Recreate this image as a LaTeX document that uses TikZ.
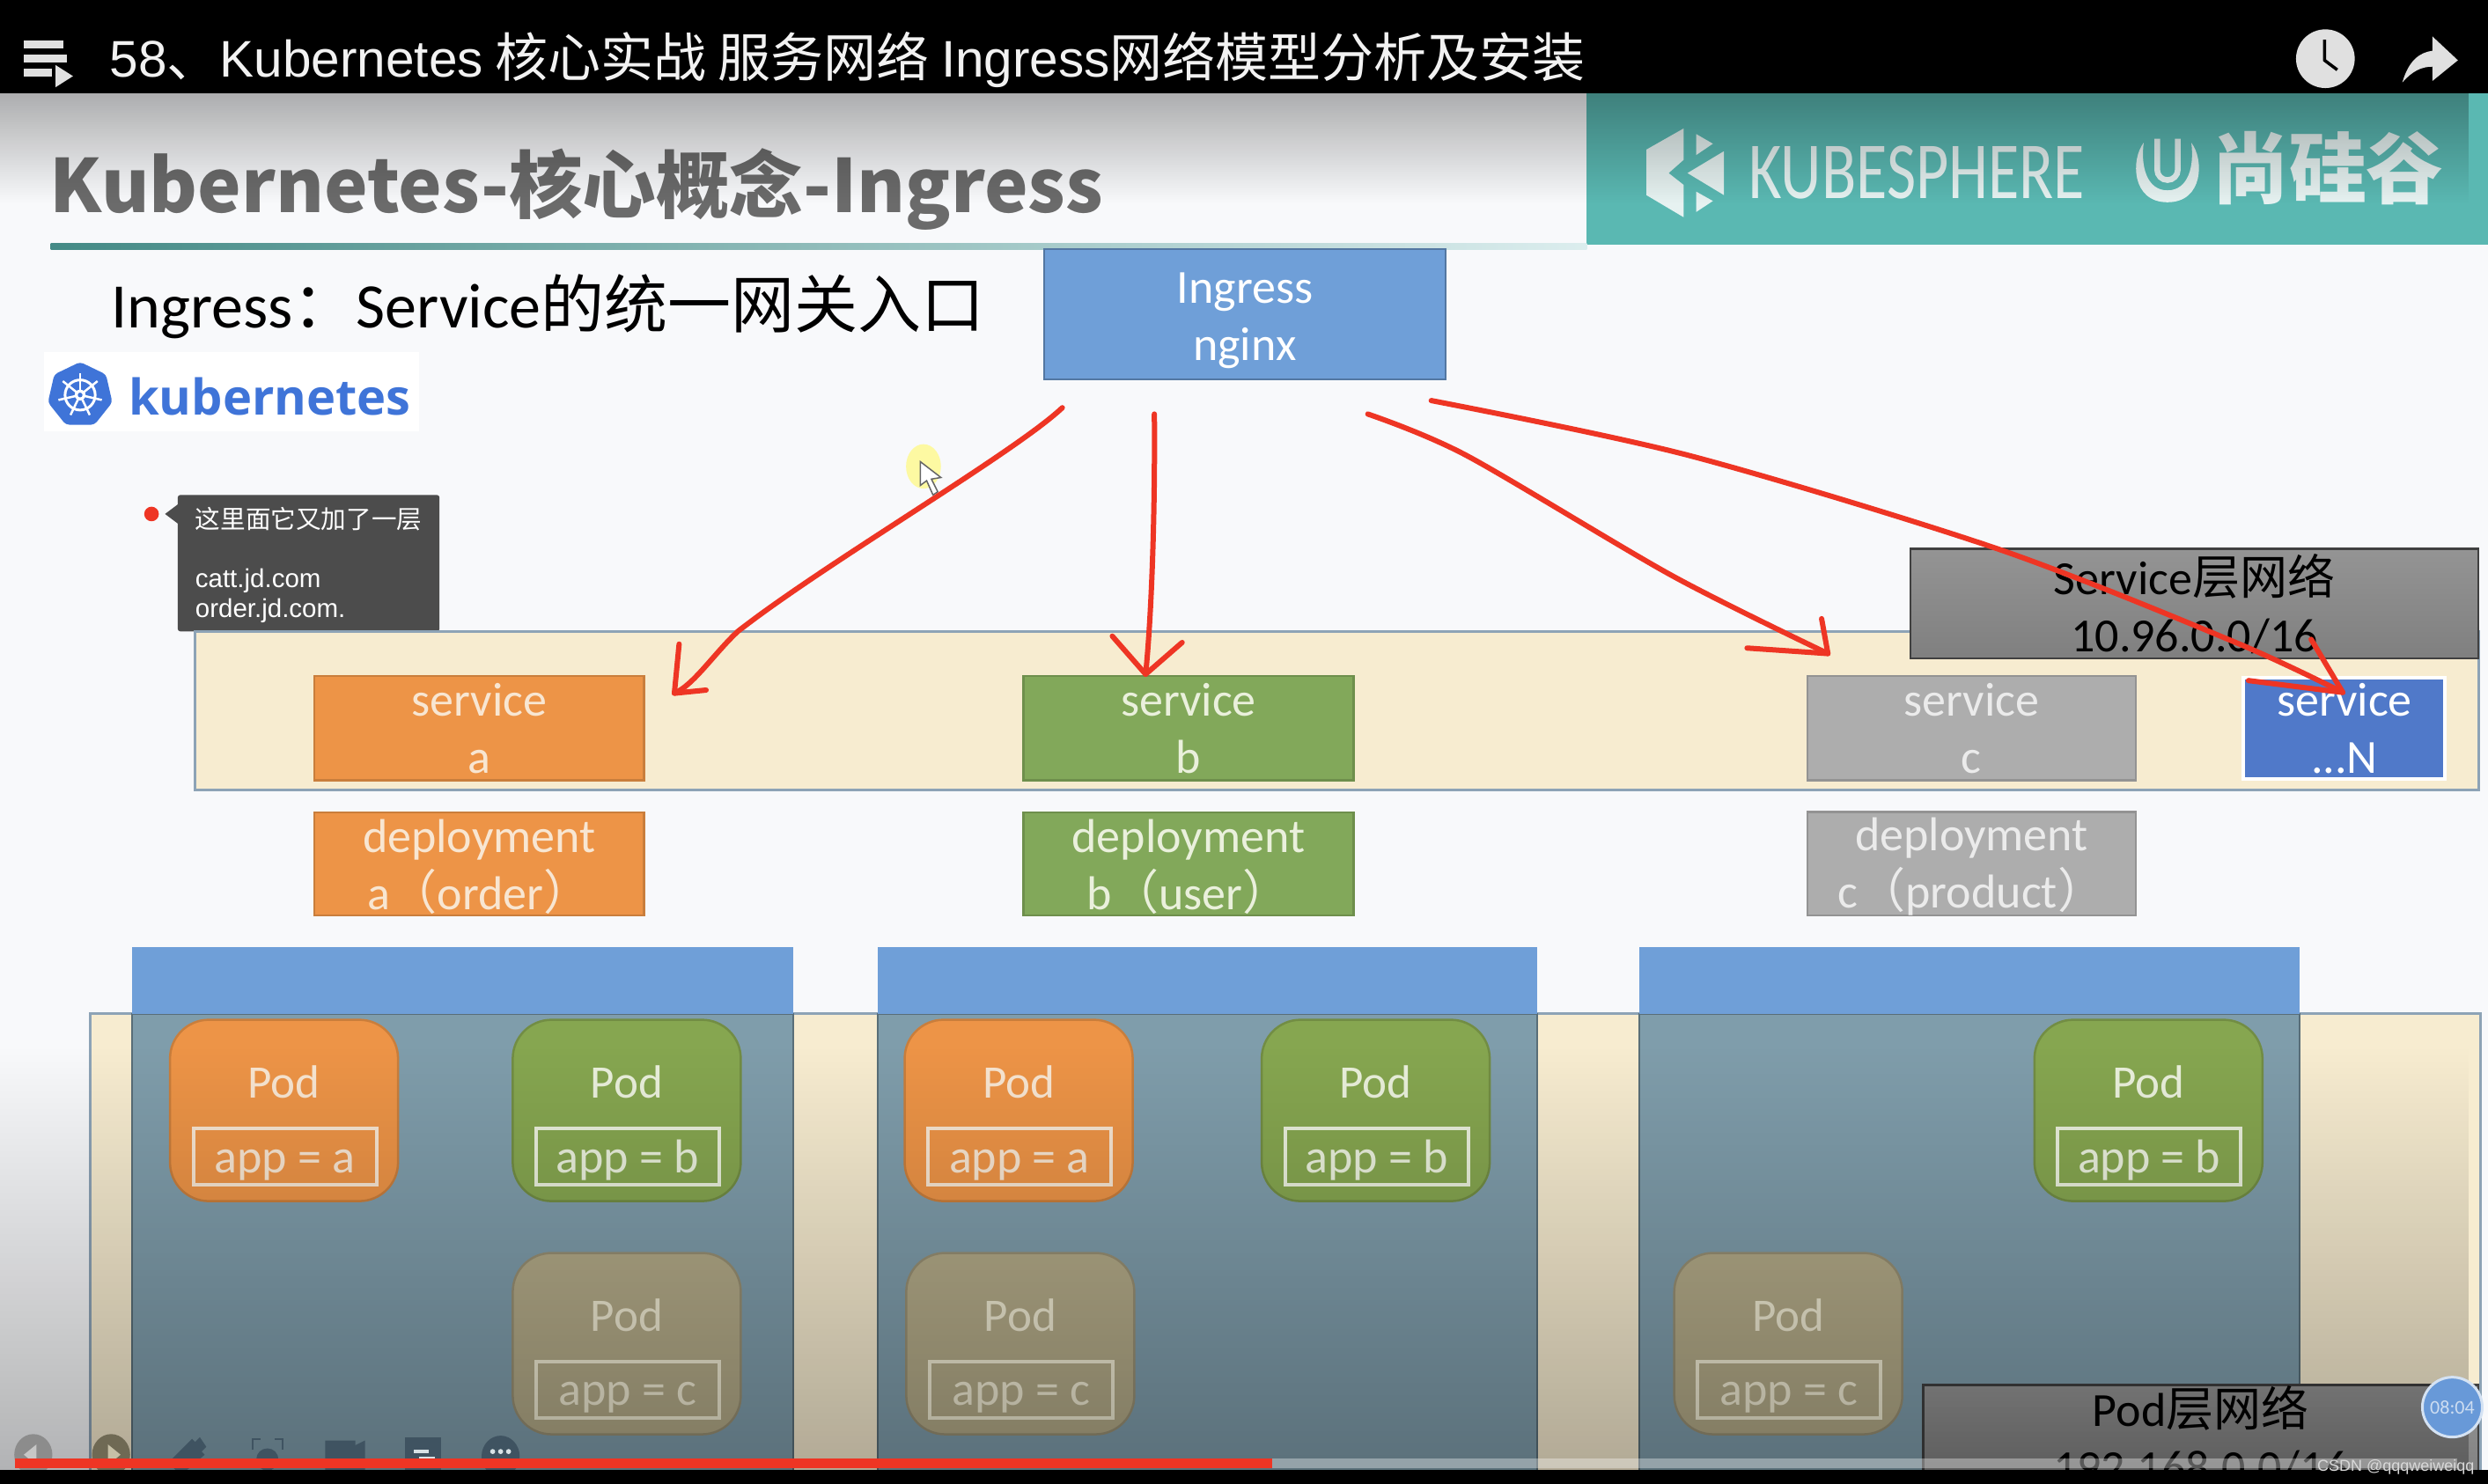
\documentclass[tikz,border=0pt]{standalone}
\usepackage{fontspec}
\usepackage{graphicx}
\usetikzlibrary{fadings,shapes.geometric,calc}
\setmainfont{Carlito}
\newfontfamily\cjk{Noto Sans CJK SC}
\newfontfamily\lib{Liberation Sans}
\newfontfamily\opn{Open Sans}
\definecolor{bgc}{HTML}{F8F9FB}
\definecolor{inkred}{HTML}{EE3524}
\definecolor{bandc}{HTML}{F7ECD0}
\definecolor{bandl}{HTML}{8DA3B6}
\definecolor{nodeb}{HTML}{6F9FD8}
\definecolor{nodeg}{HTML}{7F9DAB}
\definecolor{podo}{HTML}{ED9447}
\definecolor{podoT}{HTML}{F8E6D2}
\definecolor{podg}{HTML}{86A650}
\definecolor{podgT}{HTML}{EAF0DC}
\definecolor{podb}{HTML}{B3AA88}
\definecolor{podbT}{HTML}{EFEAD2}
\definecolor{svcb}{HTML}{82A85A}
\definecolor{svcc}{HTML}{ADADAD}
\definecolor{svcn}{HTML}{5079C9}
\definecolor{kblue}{HTML}{3F74D8}
\definecolor{tealc}{HTML}{5AB8B2}
\definecolor{logow}{HTML}{E6F2F1}
\definecolor{toolc}{HTML}{3F5361}
\tikzfading[name=fdtop,top color=transparent!70,bottom color=transparent!100]
\tikzfading[name=fdbot,top color=transparent!100,bottom color=transparent!72]
\tikzset{
  rb/.style={draw,line width=2.5pt,inner sep=0pt,align=center,text=white,font=\fontsize{54}{65}\selectfont},
  svco/.style={fill=podo,draw=podo!85!black,text=podoT},
  svcg/.style={fill=svcb,draw=svcb!85!black,text=podgT},
  svcy/.style={fill=svcc,draw=svcc!85!black,text=white!92!black},
  svcN/.style={fill=svcn,draw=white,line width=4pt},
  netbox/.style={rb,draw=black!75,top color=black!42,bottom color=black!50,text=black},
  nodebody/.style={fill=nodeg,draw=nodeg!70!black,line width=2pt},
  nodetop/.style={fill=nodeb,draw=none},
  ink/.style={draw=inkred,line width=6pt,line cap=round,line join=round},
  lat/.style={inner sep=0pt,anchor=west},
}
\newcommand{\rbox}[7]{%
  \pgfmathsetmacro\rw{(#5-#3)*1.8023}\pgfmathsetmacro\rh{(#6-#4)*1.8023}%
  \node[rb,#2,minimum width=\rw pt,minimum height=\rh pt] (#1) at ({(#3+#5)/2},{(#4+#6)/2}) {#7};}
\newcommand{\podbox}[6]{%
  \node[draw=#4!85!black,fill=#4,line width=2.5pt,rounded corners=44pt,minimum width=259pt,minimum height=206pt,inner sep=0pt] (#1) at ({#2+72},{#3+57}) {};
  \node[inner sep=0pt,text=#4T,font=\fontsize{53}{60}\selectfont] (#1t) at ({#2+72},{#3+39.3}) {#5};
  \node[draw=#4T,line width=4pt,inner sep=0pt,minimum width=208pt,minimum height=64pt,text=#4T,font=\fontsize{54}{60}\selectfont] (#1a) at ({#2+72.5},{#3+86}) {\rule{0pt}{45pt}#6};}
\begin{document}
\begin{tikzpicture}[x=1.8023pt,y=-1.8023pt]
\useasboundingbox (0,0) rectangle (1568,935.45);
\fill[bgc] (0,0) rectangle (1568,935.45);
% header
\fill[tealc] (1000,59) rectangle (1568,154);
\shade[left color=tealc!75!black,right color=tealc!18!bgc] (32,153.5) rectangle (1000,157.5);
\node[lat,text=black!58,font=\cjk\bfseries\fontsize{83.6}{90}\selectfont] (title) at (31.5,119.5) {Kubernetes-核心概念-Ingress};
% logos
\fill[logow] (1037.6,94.3) -- (1061,81) -- (1061,100.8) -- (1051.6,109.1) -- (1061,116.5) -- (1061,136.9) -- (1037.6,123) -- cycle;
\fill[logow] (1069,84.5) -- (1079.5,90.6) -- (1069,97.7) -- cycle;
\fill[logow] (1086.5,95.3) -- (1086.5,123) -- (1063.5,109.1) -- cycle;
\fill[logow] (1069,120.8) -- (1079.5,126.7) -- (1069,133.6) -- cycle;
\node[inner sep=0pt,text=logow,font=\fontsize{92}{92}\selectfont] (kubes) at (1208,109) {\scalebox{0.785}[1]{KUBESPHERE}};
\fill[logow] (1351,90) .. controls (1343,100) and (1343,127.5) .. (1366,127.5) .. controls (1389,127.5) and (1389,100) .. (1381,90) .. controls (1383,105) and (1379,120) .. (1366,120) .. controls (1353,120) and (1349,105) .. cycle;
\draw[logow,line width=6.5pt] (1359.5,87.5) -- (1359.5,107) arc[start angle=180,end angle=0,radius=6.5] -- (1372.5,87.5);
\node[inner sep=0pt,text=logow,font=\cjk\bfseries\fontsize{88}{88}\selectfont] (sgg) at (1467,106) {尚硅谷};
% subtitle
\node[lat,font=\fontsize{72}{80}\selectfont] (sub) at (70,193) {Ingress{\cjk ：}Service{\cjk 的统一网关入口}};
% ingress
\rbox{ing}{fill=nodeb,draw=nodeb!75!black}{658}{157}{911}{239}{\rule{0pt}{49pt}Ingress\\nginx}
% kubernetes logo
\fill[white] (28,222) rectangle (264,272);
\node[regular polygon,regular polygon sides=7,fill=kblue,minimum size=75pt,inner sep=0pt,rounded corners=4pt] (k8s) at (50.5,249) {};
\draw[white,line width=3pt] (k8s.center) circle[radius=9.5];
\foreach \a in {90,141.4,192.9,244.3,295.7,347.1,38.6}
  \draw[white,line width=2.5pt] (k8s.center) -- ++(\a:-14);
\fill[white] (k8s.center) circle[radius=3.4];
\fill[kblue] (k8s.center) circle[radius=1.5];
\node[lat,text=kblue,font=\opn\bfseries\fontsize{56}{60}\selectfont] (kname) at (81,250) {kubernetes};
% tooltip
\fill[inkred] (95.5,324) circle[radius=4.6];
\fill[black!70,rounded corners=3pt] (112,312) rectangle (277,398);
\fill[black!70] (112,318) -- (104,324) -- (112,330) -- cycle;
\node[lat,text=white,font=\cjk\fontsize{28.6}{30}\selectfont] (tip1) at (123,327) {这里面它又加了一层};
\node[lat,text=white,font=\lib\fontsize{29.5}{30}\selectfont] (tip2) at (123,366) {catt.jd.com};
\node[lat,text=white,font=\lib\fontsize{29.5}{30}\selectfont] (tip3) at (123,385) {order.jd.com.};
% cursor
\fill[yellow!45!white,opacity=.8] (582,294) ellipse[x radius=11,y radius=14];
\draw[black!60,fill=white,line width=1.5pt] (580,291) -- (580,306) -- (584,303) -- (588,312) -- (591,310) -- (587,302) -- (593,301) -- cycle;
% service band
\draw[fill=bandc,draw=bandl,line width=3pt] (123,398) rectangle (1562,498);
\rbox{sa}{svco}{198}{426}{406}{492}{service\\a}
\rbox{sb}{svcg}{645}{426}{853}{492}{service\\b}
\rbox{sc}{svcy}{1139}{426}{1346}{492}{service\\c}
\rbox{sn}{svcN}{1414}{427}{1541}{491}{service\\...N}
\rbox{slabel}{netbox}{1204}{346}{1562}{415}{Service{\cjk 层网络}\\10.96.0.0/16}
% deployments
\rbox{da}{svco}{198}{512}{406}{577}{\rule{0pt}{44pt}deployment\\a{\cjk （}order{\cjk ）}}
\rbox{db}{svcg}{645}{512}{853}{577}{\rule{0pt}{44pt}deployment\\b{\cjk （}user{\cjk ）}}
\rbox{dc}{svcy}{1139}{512}{1346}{577}{\rule{0pt}{44pt}deployment\\c{\cjk （}product{\cjk ）}}
% pod band
\draw[fill=bandc,draw=bandl,line width=3pt] (57,639) rectangle (1563,940);
\foreach \xa/\xb in {83/500,553/969,1033/1449}{
  \draw[nodebody] (\xa,639) rectangle (\xb,940);
  \fill[nodetop] (\xa,597) rectangle (\xb,639);
}
\podbox{p1}{107}{643}{podo}{Pod}{app = a}
\podbox{p2}{323}{643}{podg}{Pod}{app = b}
\podbox{p3}{323}{790}{podb}{Pod}{app = c}
\podbox{p4}{570}{643}{podo}{Pod}{app = a}
\podbox{p5}{795}{643}{podg}{Pod}{app = b}
\podbox{p6}{571}{790}{podb}{Pod}{app = c}
\podbox{p7}{1282}{643}{podg}{Pod}{app = b}
\podbox{p8}{1055}{790}{podb}{Pod}{app = c}
\rbox{plabel}{netbox}{1212}{873}{1562}{937}{Pod{\cjk 层网络}\\192.168.0.0/16}
% overlays
\fill[black,path fading=fdtop] (0,59) rectangle (1568,128);
\fill[black,path fading=fdbot] (0,660) rectangle (1568,927);
% toolbar
\fill[black!45] (21,917) ellipse[x radius=12,y radius=13];
\fill[black!22] (15,917) -- (23,910.5) -- (23,923.5) -- cycle;
\fill[podb!62!black] (70,917) ellipse[x radius=12,y radius=13];
\fill[podb!75!white] (76,917) -- (68,910.5) -- (68,923.5) -- cycle;
\fill[toolc] (106,922) -- (121,907) -- (123,909) -- (126,906) -- (130,912) -- (127,915) -- (129,917) -- (114,930) -- cycle;
\fill[toolc] (168.5,920) circle[radius=7];
\draw[toolc,line width=2pt] (159,914) -- (159,907) -- (164,907) (178,914) -- (178,907) -- (173,907);
\fill[toolc] (205,908) -- (224,908) -- (224,911) -- (230,908) -- (230,930) -- (205,930) -- cycle;
\fill[toolc] (255,906) rectangle (278,930);
\fill[white!70!nodeg] (261,914) rectangle (270,916);
\fill[white!70!nodeg] (264,918) rectangle (274,920);
\fill[toolc] (315.5,918) ellipse[x radius=12,y radius=13];
\foreach \xd in {310.5,315.5,320.5} \fill[white!70!nodeg] (\xd,915) circle[radius=1.6];
% red ink arrows
\coordinate (aS) at (669.5,257);
\coordinate (aM) at (465,398);
\coordinate (aE) at (425,437);
\coordinate (aH) at (428,406);
\coordinate (aI) at (445,435);
\draw[ink] (aS) .. controls (640,285) and (520,355) .. (aM) .. controls (450,412) and (437,432) .. (aE);
\draw[ink] (aH) -- (aE) -- (aI);
\coordinate (bS) at (727.5,261);
\coordinate (bE) at (722,425);
\coordinate (bH) at (701,401);
\coordinate (bI) at (745,405);
\draw[ink] (bS) .. controls (728,320) and (726,385) .. (bE);
\draw[ink] (bH) -- (bE) -- (bI);
\coordinate (cS) at (862,261);
\coordinate (c1) at (924,287);
\coordinate (c2) at (1054,363);
\coordinate (cE) at (1152,412);
\coordinate (cH) at (1148,390);
\coordinate (cI) at (1101,408.5);
\draw[ink] plot[smooth,tension=.5] coordinates {(cS) (c1) (c2) (cE)};
\draw[ink] (cH) -- (cE) -- (cI);
\coordinate (dS) at (902,252.5);
\coordinate (d1) at (1064,287);
\coordinate (d2) at (1259,346);
\coordinate (d3) at (1409,405);
\coordinate (dE) at (1476.5,436.5);
\coordinate (dH) at (1456.5,403);
\coordinate (dI) at (1417,429);
\draw[ink] plot[smooth,tension=.5] coordinates {(dS) (d1) (d2) (d3) (dE)};
\draw[ink] (dH) -- (dE) -- (dI);
% time bubble
\node[circle,fill=nodeb!85!kblue,draw=white!70!nodeb,line width=3pt,minimum size=68pt,inner sep=0pt,text=white!65!nodeb,font=\fontsize{22}{24}\selectfont] (tm) at (1545.5,887) {08:04};
% progress
\fill[white,opacity=.35] (802,919.4) rectangle (1548.5,925.5);
\fill[inkred] (9.5,919.4) rectangle (802,925.5);
% black bars
\fill[black] (0,926.6) rectangle (1568,935.45);
\fill[black] (0,0) rectangle (1568,59);
\node[inner sep=0pt,anchor=east,text=white!85!black,font=\lib\fontsize{18}{20}\selectfont] (csdn) at (1559.5,925) {CSDN @qqqweiweiqq};
% menu icon
\foreach \yb/\xe in {28/40,37/42,46/42} \fill[white!88!black] (15,\yb-2.5) rectangle (\xe,\yb+2.5);
\fill[black] (33,43) rectangle (48,57);
\fill[white!88!black] (35,41) -- (46,48) -- (35,55) -- cycle;
\node[lat,text=white!95!black,font=\cjk\fontsize{60}{62}\selectfont] (bar) at (69,37.5) {{\lib\fontsize{58.5}{62}\selectfont 58}、{\lib\fontsize{58.5}{62}\selectfont Kubernetes} 核心实战 服务网络 {\lib\fontsize{58.5}{62}\selectfont Ingress}网络模型分析及安装};
% clock
\fill[white!88!black] (1465.5,37) circle[radius=18.5];
\draw[black,line width=3.5pt] (1465,25) -- (1465,38) -- (1473,44);
% share
\fill[white!88!black] (1514,52) .. controls (1518,38) and (1525,33) .. (1533,32) -- (1533,23) -- (1549,38) -- (1533,51) -- (1533,42) .. controls (1526,42) and (1520,45) .. cycle;
\end{tikzpicture}
\end{document}
